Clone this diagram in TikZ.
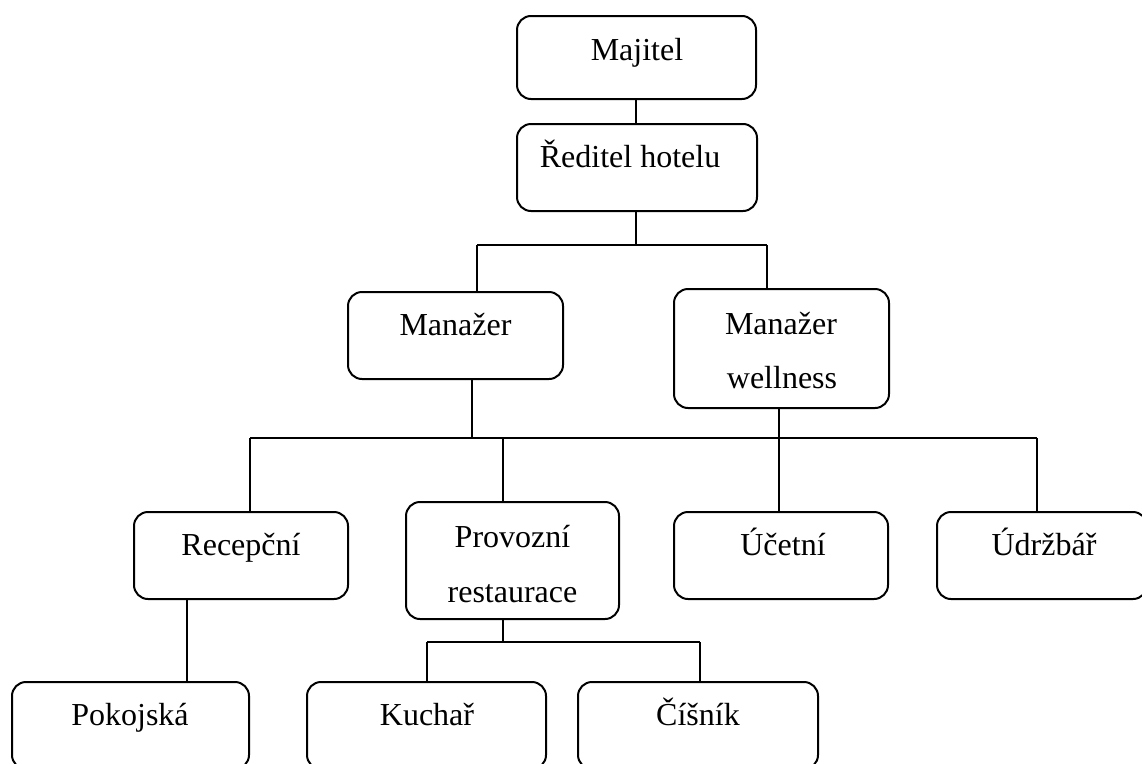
\documentclass[tikz,border=0pt]{standalone}
\usepackage{fontspec}
\setmainfont{Liberation Serif}
\begin{document}
\begin{tikzpicture}[x=1pt,y=-1pt,
  bx/.style={draw=black, line width=2pt, rounded corners=14pt, rectangle, inner sep=0pt},
  ln/.style={draw=black, line width=1.5pt},
  txt/.style={anchor=base, inner sep=0pt, font=\fontsize{32}{38}\selectfont}]
\useasboundingbox (0,0) rectangle (1142,763);
\clip (0,0) rectangle (1142,763);
% boxes
\node[bx, minimum width=239pt, minimum height=83pt] (maj) at (636.5,57.5) {};
\node[bx, minimum width=240pt, minimum height=87pt] (red) at (637,167.5) {};
\node[bx, minimum width=215pt, minimum height=87pt] (man) at (455.5,335.5) {};
\node[bx, minimum width=215pt, minimum height=119pt] (mw) at (781.5,348.5) {};
\node[bx, minimum width=214pt, minimum height=87pt] (rec) at (241,555.5) {};
\node[bx, minimum width=213pt, minimum height=117pt] (prov) at (512.5,560.5) {};
\node[bx, minimum width=214pt, minimum height=87pt] (uc) at (781,555.5) {};
\node[bx, minimum width=210pt, minimum height=87pt] (udr) at (1042,555.5) {};
\node[bx, minimum width=237pt, minimum height=87pt] (pok) at (130.5,725.5) {};
\node[bx, minimum width=239pt, minimum height=87pt] (kuch) at (426.5,725.5) {};
\node[bx, minimum width=240pt, minimum height=87pt] (cis) at (698,725.5) {};
% texts
\node[txt] (tmaj) at (637,60) {Majitel};
\node[txt] (tred) at (630,167) {Ředitel hotelu};
\node[txt] (tman) at (455.5,335) {Manažer};
\node[txt] (tmw1) at (781,334) {Manažer};
\node[txt] (tmw2) at (782,388) {wellness};
\node[txt] (trec) at (241,555) {Recepční};
\node[txt] (tprov1) at (512.5,547) {Provozní};
\node[txt] (tprov2) at (512.5,602) {restaurace};
\node[txt] (tuc) at (783,555) {Účetní};
\node[txt] (tudr) at (1044,555) {Údržbář};
\node[txt] (tpok) at (130,725) {Pokojská};
\node[txt] (tkuch) at (427,725) {Kuchař};
\node[txt] (tcis) at (698,725) {Číšník};
% junction coordinates
\coordinate (a1) at (636,245);
\coordinate (a2) at (477,245);
\coordinate (a3) at (767,245);
\coordinate (b1) at (472,438);
\coordinate (b2) at (250,438);
\coordinate (b3) at (1037,438);
\coordinate (b4) at (503,438);
\coordinate (c0) at (779,438);
\coordinate (d1) at (187,600);
\coordinate (e1) at (503,642);
\coordinate (e2) at (427,642);
\coordinate (e3) at (700,642);
% connectors
\draw[ln] (maj.south -| a1) -- (red.north -| a1);
\draw[ln] (red.south -| a1) -- (a1);
\draw[ln] (a2) -- (a3);
\draw[ln] (a2) -- (a2 |- man.north);
\draw[ln] (a3) -- (a3 |- mw.north);
\draw[ln] (man.south -| b1) -- (b1);
\draw[ln] (b2) -- (b3);
\draw[ln] (b2) -- (b2 |- rec.north);
\draw[ln] (b4) -- (b4 |- prov.north);
\draw[ln] (b3) -- (b3 |- udr.north);
\draw[ln] (mw.south -| c0) -- (uc.north -| c0);
\draw[ln] (rec.south -| d1) -- (pok.north -| d1);
\draw[ln] (prov.south -| e1) -- (e1);
\draw[ln] (e2) -- (e3);
\draw[ln] (e2) -- (e2 |- kuch.north);
\draw[ln] (e3) -- (e3 |- cis.north);
\end{tikzpicture}
\end{document}
